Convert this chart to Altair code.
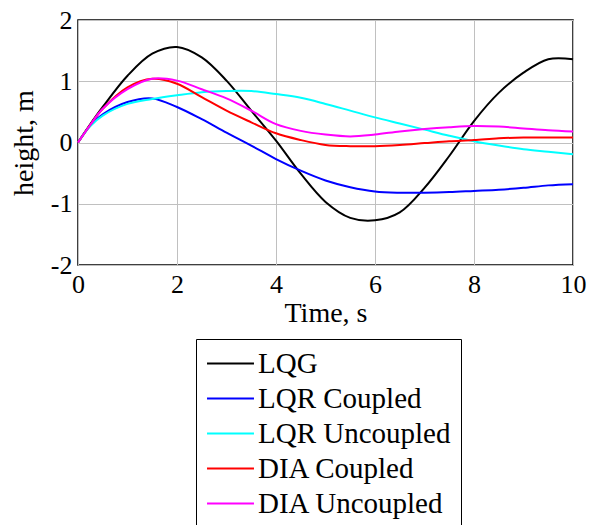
import altair as alt
import pandas as pd

t = [0, 0.25, 0.5, 1.0, 1.5, 2.0, 2.5, 3.0, 3.5, 4.0, 4.5, 5.0, 5.5, 6.0, 6.5, 7.0, 7.5, 8.0, 8.5, 9.0, 9.5, 10.0]

lqg = [0, 0.30, 0.58, 1.09, 1.45, 1.56, 1.39, 1.01, 0.52, 0.03, -0.51, -0.97, -1.23, -1.27, -1.14, -0.74, -0.22, 0.35, 0.81, 1.14, 1.36, 1.36]
lqr_c = [0, 0.28, 0.46, 0.66, 0.72, 0.58, 0.38, 0.16, -0.05, -0.27, -0.46, -0.62, -0.73, -0.80, -0.82, -0.82, -0.81, -0.79, -0.77, -0.74, -0.70, -0.68]
lqr_u = [0, 0.27, 0.44, 0.63, 0.71, 0.77, 0.82, 0.84, 0.84, 0.79, 0.73, 0.63, 0.52, 0.41, 0.31, 0.21, 0.11, 0.02, -0.05, -0.11, -0.15, -0.19]
dia_c = [0, 0.29, 0.55, 0.90, 1.04, 0.96, 0.74, 0.52, 0.33, 0.15, 0.04, -0.04, -0.06, -0.06, -0.04, -0.01, 0.02, 0.04, 0.07, 0.08, 0.08, 0.08]
dia_u = [0, 0.29, 0.55, 0.87, 1.04, 1.01, 0.87, 0.72, 0.52, 0.30, 0.19, 0.13, 0.10, 0.13, 0.18, 0.22, 0.25, 0.27, 0.26, 0.23, 0.20, 0.18]

names = ["LQG", "LQR Coupled", "LQR Uncoupled", "DIA Coupled", "DIA Uncoupled"]
colors = ["#000000", "#0000ff", "#00ffff", "#ff0000", "#ff00ff"]
series = [lqg, lqr_c, lqr_u, dia_c, dia_u]

rows = []
for i, (n, s) in enumerate(zip(names, series)):
    for tt, v in zip(t, s):
        rows.append({"time": tt, "height": v, "series": n, "k": i})
df = pd.DataFrame(rows)

font = "Liberation Serif"

chart = alt.Chart(df).mark_line(strokeWidth=2, interpolate="catmull-rom").encode(
    x=alt.X("time:Q", scale=alt.Scale(domain=[0, 10], nice=False),
            axis=alt.Axis(title="Time, s", values=[0, 2, 4, 6, 8, 10],
                          labelExpr="'' + datum.value", labelFontSize=26,
                          titleFontSize=28, labelPadding=6, titlePadding=2,
                          tickSize=0, domain=False, titleFontWeight="normal",
                          labelFlush=False, labelOverlap=False,
                          labelFont=font, titleFont=font)),
    y=alt.Y("height:Q", scale=alt.Scale(domain=[-2, 2], nice=False),
            axis=alt.Axis(title="height, m", values=[-2, -1, 0, 1, 2],
                          labelExpr="'' + datum.value", labelFontSize=26,
                          titleFontSize=28, labelPadding=6, titlePadding=12,
                          tickSize=0, domain=False, titleFontWeight="normal",
                          labelFlush=False, labelOverlap=False,
                          labelFont=font, titleFont=font)),
    color=alt.Color("series:N", scale=alt.Scale(domain=names, range=colors),
                    legend=alt.Legend(title=None, orient="none", legendX=118, legendY=319,
                                      symbolType="M-3,0H3", symbolSize=245,
                                      symbolStrokeWidth=2, symbolOffset=10,
                                      labelFontSize=29, labelFont=font,
                                      labelColor="black",
                                      strokeColor="black", fillColor="white",
                                      padding=10, rowPadding=5, labelOffset=13,
                                      labelLimit=400)),
    order=alt.Order("k:Q"),
).properties(
    width=495, height=245,
    autosize=alt.AutoSizeParams(type="none"),
    padding={"left": 78, "top": 20, "right": 16, "bottom": 260},
).configure_axis(
    labelColor="black", titleColor="black",
    gridColor="#c0c0c0", gridWidth=1, gridOpacity=1,
).configure_view(
    stroke="black", strokeWidth=1.5
)

chart.save("out.html", embed_options={"renderer": "svg", "actions": False})
